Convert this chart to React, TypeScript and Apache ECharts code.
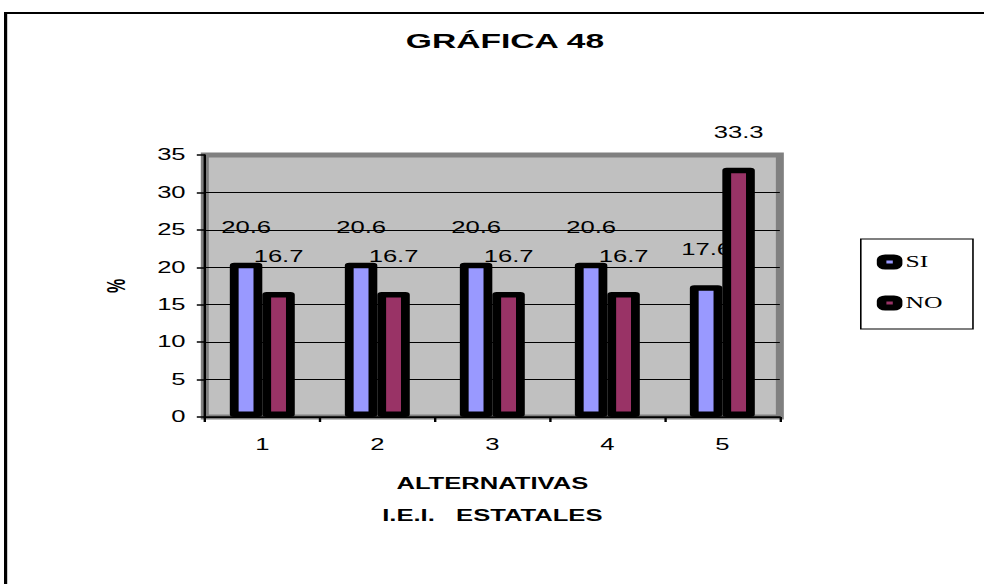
import React, { useEffect, useRef } from "react";
import * as echarts from "echarts";

const categories = ["1", "2", "3", "4", "5"];
const siValues = [20.6, 20.6, 20.6, 20.6, 17.6];
const noValues = [16.7, 16.7, 16.7, 16.7, 33.3];
const seriesNames = ["SI", "NO"];
const yMin = 0;
const yMax = 35;
const yInterval = 5;

const STRETCH = 1.6;
const W = 615;
const H = 584;
const SANS = '"Liberation Sans", Arial, sans-serif';
const SERIF = '"Liberation Serif", "Times New Roman", serif';

export default function App() {
  const ref = useRef<HTMLDivElement>(null);
  useEffect(() => {
    if (!ref.current) return;
    const chart = echarts.init(ref.current, null, { renderer: "svg" });
    const labelCfg = {
      show: true,
      position: "top",
      distance: 27,
      color: "#000",
      fontSize: 16,
      fontFamily: SANS,
    };
    chart.setOption({
      animation: false,
      backgroundColor: "#fff",
      title: {
        text: "GRÁFICA 48",
        left: 315.6,
        top: 30,
        textAlign: "center",
        padding: 0,
        textStyle: { fontSize: 21, fontWeight: "bold", color: "#000", fontFamily: SANS },
      },
      graphic: [
        {
          type: "rect",
          shape: { x: 3.5, y: 13, width: 800, height: 800 },
          style: { fill: "none", stroke: "#000", lineWidth: 2 },
          silent: true,
        },
      ],
      legend: {
        orient: "vertical",
        left: 538,
        top: 239,
        padding: [15, 19, 18, 10],
        itemGap: 25,
        itemWidth: 10,
        itemHeight: 9,
        icon: "roundRect",
        borderColor: "#000",
        borderWidth: 1,
        itemStyle: { borderColor: "#000", borderWidth: 6 },
        textStyle: { fontSize: 16, color: "#000", fontFamily: SERIF },
        data: seriesNames,
      },
      grid: {
        left: 128,
        top: 155,
        width: 359.4,
        height: 262,
        show: true,
        backgroundColor: "#C0C0C0",
        borderColor: "#808080",
        borderWidth: 5,
      },
      xAxis: {
        type: "category",
        data: categories,
        name: "ALTERNATIVAS\nI.E.I.   ESTATALES",
        nameLocation: "middle",
        nameGap: 51,
        nameTextStyle: {
          fontSize: 16,
          fontWeight: "bold",
          color: "#000",
          fontFamily: SANS,
          lineHeight: 32,
        },
        axisLine: { lineStyle: { color: "#000", width: 1.5 } },
        axisTick: { show: true, length: 5, lineStyle: { color: "#000", width: 1.5 } },
        axisLabel: { fontSize: 16, color: "#000", margin: 20, fontFamily: SANS },
      },
      yAxis: {
        type: "value",
        min: yMin,
        max: yMax,
        interval: yInterval,
        name: "%",
        nameLocation: "middle",
        nameGap: 47,
        nameTextStyle: { fontSize: 16, fontWeight: "bold", color: "#000", fontFamily: SANS },
        axisLine: { show: true, lineStyle: { color: "#000", width: 1.5 } },
        axisTick: { show: true, length: 5, lineStyle: { color: "#000", width: 1.5 } },
        axisLabel: { fontSize: 16, color: "#000", margin: 12, fontFamily: SANS },
        splitLine: { show: true, showMaxLine: false, lineStyle: { color: "#000", width: 1 } },
      },
      series: [
        {
          name: seriesNames[0],
          type: "bar",
          data: siValues,
          barWidth: 20.3,
          barGap: "0%",
          z: 2,
          itemStyle: { color: "#9999FF", borderColor: "#000", borderWidth: 5.5, borderJoin: "round" },
          label: labelCfg,
        },
        {
          name: seriesNames[1],
          type: "bar",
          data: noValues,
          barWidth: 20.3,
          barGap: "0%",
          z: 3,
          itemStyle: { color: "#993366", borderColor: "#000", borderWidth: 5.5, borderJoin: "round" },
          label: labelCfg,
        },
      ],
    });
    return () => chart.dispose();
  }, []);
  return (
    <div
      style={{
        position: "fixed",
        left: 0,
        top: 0,
        width: 984,
        height: 584,
        overflow: "hidden",
        background: "#fff",
      }}
    >
      <div
        ref={ref}
        style={{
          width: W,
          height: H,
          transform: `scaleX(${STRETCH})`,
          transformOrigin: "0 0",
        }}
      />
    </div>
  );
}
